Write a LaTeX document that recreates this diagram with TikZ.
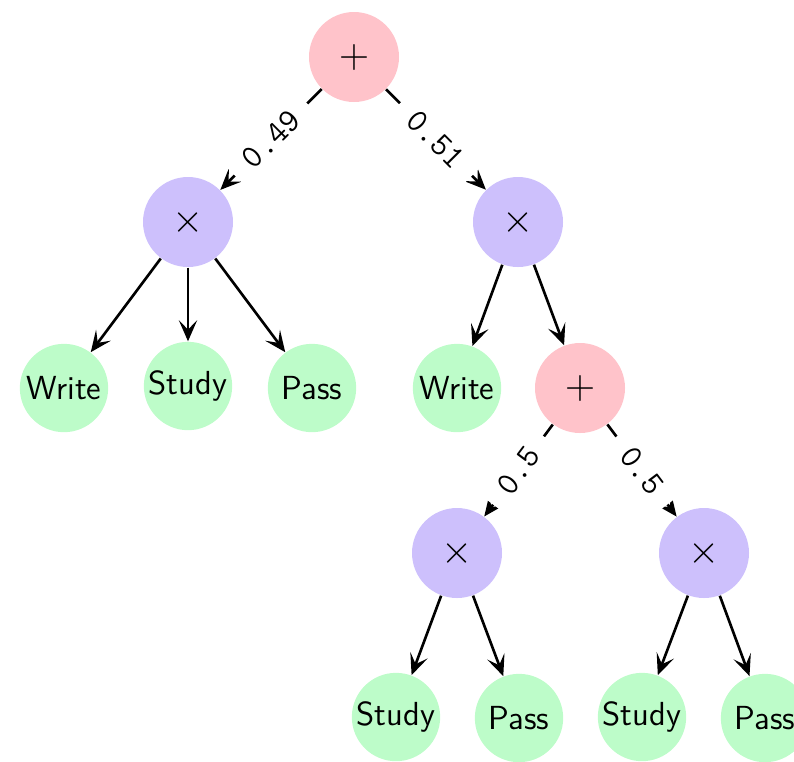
\documentclass[tikz,border=0pt]{standalone}
\usetikzlibrary{arrows.meta}
\definecolor{sumpink}{RGB}{255,195,202}
\definecolor{prodlav}{RGB}{205,192,252}
\definecolor{leafgreen}{RGB}{189,252,201}
\begin{document}
\begin{tikzpicture}[x=0.36pt, y=-0.36pt,
  every node/.style={inner sep=0pt},
  opnode/.style={circle, minimum size=32.4pt, font=\fontsize{14}{16}\selectfont},
  sumnode/.style={opnode, fill=sumpink},
  prodnode/.style={opnode, fill=prodlav},
  leaf/.style={circle, minimum size=31.8pt, fill=leafgreen, font=\sffamily\fontsize{12}{14}\selectfont},
  edge/.style={line width=0.95pt, -{Stealth[length=7.6pt, width=6.6pt, inset=3.4pt]}},
  weight/.style={midway, sloped, fill=white, inner xsep=6pt, inner ysep=2pt, font=\ttfamily\fontsize{12}{14}\selectfont}
]
\useasboundingbox (0,0) rectangle (794,761);

% sum and product nodes
\node[sumnode]  (root) at (354,57)  {$+$};
\node[prodnode] (pl)   at (188,222) {$\times$};
\node[prodnode] (pr)   at (518,222) {$\times$};
\node[sumnode]  (s2)   at (580,388) {$+$};
\node[prodnode] (pa)   at (457,553) {$\times$};
\node[prodnode] (pb)   at (704,553) {$\times$};

% leaves
\node[leaf] (w1) at (64,388)  {Write};
\node[leaf] (s1) at (188,386) {Study};
\node[leaf] (p1) at (312,388) {Pass};
\node[leaf] (w2) at (457,388) {Write};
\node[leaf] (s3) at (396,717) {Study};
\node[leaf] (p3) at (519,718) {Pass};
\node[leaf] (s4) at (642,717) {Study};
\node[leaf] (p4) at (765,718) {Pass};

% weighted edges
\draw[edge] (root) -- node[weight] {0.49} (pl);
\draw[edge] (root) -- node[weight] {0.51} (pr);
\draw[edge] (s2) -- node[weight] {0.5} (pa);
\draw[edge] (s2) -- node[weight] {0.5} (pb);

% product edges
\draw[edge] (pl) -- (w1);
\draw[edge] (pl) -- (s1);
\draw[edge] (pl) -- (p1);
\draw[edge] (pr) -- (w2);
\draw[edge] (pr) -- (s2);
\draw[edge] (pa) -- (s3);
\draw[edge] (pa) -- (p3);
\draw[edge] (pb) -- (s4);
\draw[edge] (pb) -- (p4);
\end{tikzpicture}
\end{document}
